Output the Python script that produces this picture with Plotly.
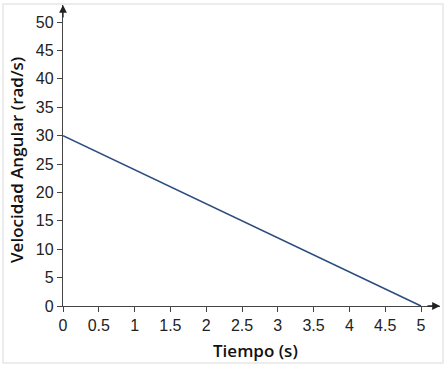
import plotly.graph_objects as go

time_s = [0, 5]
omega = [30, 0]
x_ticks = [0, 0.5, 1, 1.5, 2, 2.5, 3, 3.5, 4, 4.5, 5]
x_labels = ["0", "0.5", "1", "1.5", "2", "2.5", "3", "3.5", "4", "4.5", "5"]
y_ticks = [0, 5, 10, 15, 20, 25, 30, 35, 40, 45, 50]

W, H = 448, 369
L, R, T, B = 63, 8, 5, 63
pw, ph = W - L - R, H - T - B
xmax = (W - R - L) / 71.6
ymax = (H - B - T) / 5.68

def px(x):
    return (x - L) / pw

def py(y):
    return (H - B - y) / ph

fig = go.Figure()
fig.add_trace(go.Scatter(x=time_s, y=omega, mode="lines",
                         line=dict(color="#2b4c7e", width=1.6),
                         showlegend=False, hoverinfo="skip"))

axis_common = dict(showgrid=False, zeroline=False, showline=True, automargin=False,
                   linecolor="#444", linewidth=1.3, ticks="outside",
                   ticklen=5, tickcolor="#444", tickwidth=1,
                   tickfont=dict(family="Liberation Sans, Arial", size=16, color="#222"))

fig.update_xaxes(range=[0, xmax], tickvals=x_ticks, ticktext=x_labels, **axis_common)
fig.update_yaxes(range=[0, ymax], tickvals=y_ticks, **axis_common)

title_font = dict(family="Open Sans", size=17, color="#111", weight=600)
fig.add_annotation(x=px(255), y=py(350), xref="paper", yref="paper",
                   text="Tiempo (s)", showarrow=False, font=title_font,
                   xanchor="center", yanchor="middle")
fig.add_annotation(x=px(17), y=py(160), xref="paper", yref="paper",
                   text="Velocidad Angular (rad/s)", showarrow=False, font=title_font,
                   textangle=-90, xanchor="center", yanchor="middle")

# axis arrows
fig.add_annotation(x=1.0, y=0, xref="paper", yref="paper", ax=-14, ay=0,
                   showarrow=True, arrowhead=2, arrowsize=1.2, arrowwidth=1.3,
                   arrowcolor="#222", text="")
fig.add_annotation(x=0, y=1.0, xref="paper", yref="paper", ax=0, ay=14,
                   showarrow=True, arrowhead=2, arrowsize=1.2, arrowwidth=1.3,
                   arrowcolor="#222", text="")

# faint frame
fig.add_shape(type="rect", xref="paper", yref="paper",
              x0=px(3), x1=px(443), y0=py(363), y1=py(4),
              line=dict(color="#e6e6e6", width=1.5), layer="below")

fig.update_layout(width=W, height=H, margin=dict(l=L, r=R, t=T, b=B),
                  plot_bgcolor="white", paper_bgcolor="white")

fig.write_html("out.html", config={"displayModeBar": False},
               post_script="document.body.style.margin='0';")
